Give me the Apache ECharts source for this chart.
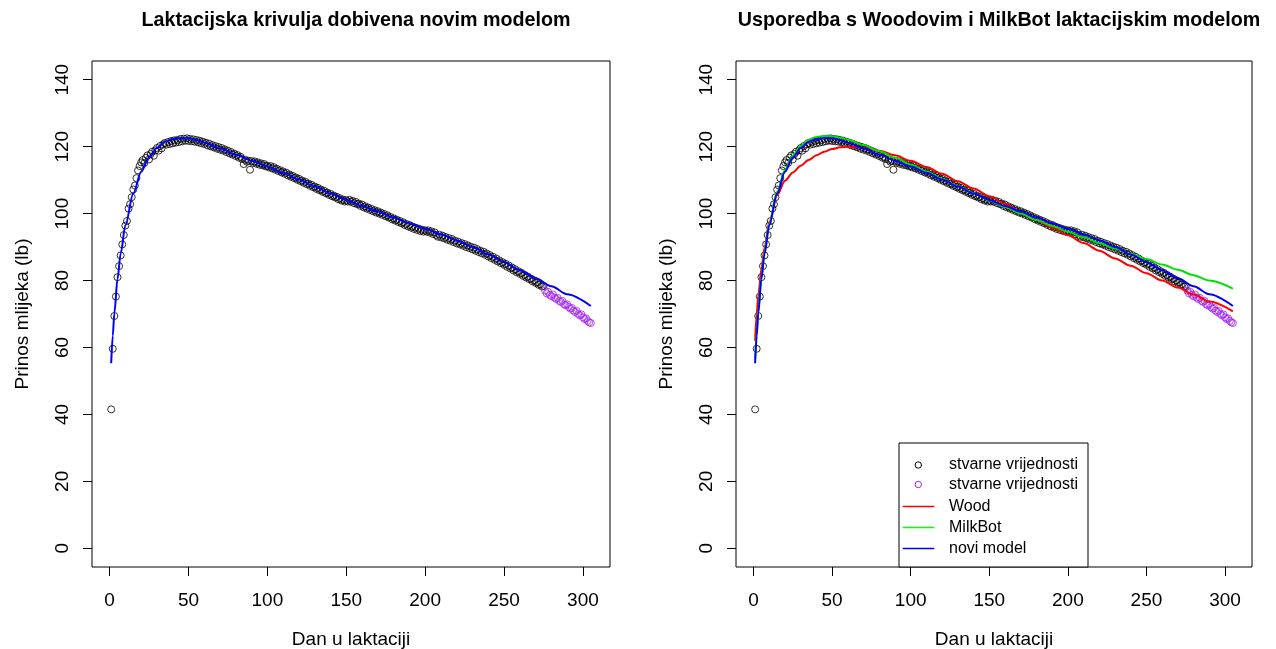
<!DOCTYPE html>
<html><head><meta charset="utf-8">
<script src="https://cdn.jsdelivr.net/npm/echarts@6/dist/echarts.min.js"></script>
<style>html,body{margin:0;padding:0;background:#fff}#c{width:1276px;height:649px}</style>
</head><body><div id="c"></div>
<script>
// ---------- data ----------
const xTicks = [0, 50, 100, 150, 200, 250, 300];
const yTicks = [0, 20, 40, 60, 80, 100, 120, 140];

// observed daily yields, black points (days 1..275)
const blackStartDay = 1;
const blackValues = [
  41.5, 59.6, 69.4, 75.2, 81.0, 84.3, 87.5, 90.8, 93.6, 96.4,
  97.8, 101.5, 102.8, 104.9, 107.2, 108.4, 110.6, 112.9, 114.2, 115.3,
  116.0, 115.1, 116.7, 117.4, 116.2, 117.8, 118.5, 117.3, 118.9, 119.6,
  118.8, 120.2, 119.5, 120.7, 121.1, 120.6, 121.4, 120.8, 121.7, 121.0,
  121.9, 121.2, 122.0, 121.4, 122.3, 121.6, 122.4, 121.8, 122.5, 121.7,
  122.3, 121.6, 122.2, 121.5, 122.0, 121.3, 121.8, 121.0, 121.5, 120.8,
  121.2, 120.4, 120.9, 120.1, 120.5, 119.8, 120.2, 119.4, 119.9, 119.1,
  119.6, 118.8, 119.2, 118.4, 118.8, 118.0, 118.4, 117.6, 117.9, 117.2,
  117.5, 116.7, 117.0, 116.3, 114.8, 116.1, 115.5, 115.8, 113.1, 115.7,
  115.2, 115.6, 114.9, 115.3, 114.6, 115.0, 114.4, 114.8, 114.1, 114.3,
  113.8, 114.2, 113.5, 113.9, 113.1, 113.4, 112.7, 113.0, 112.3, 112.6,
  111.9, 112.2, 111.4, 111.7, 111.0, 111.3, 110.6, 110.8, 110.1, 110.4,
  109.7, 109.9, 109.2, 109.5, 108.8, 109.0, 108.3, 108.6, 107.9, 108.1,
  107.4, 107.7, 107.0, 107.2, 106.5, 106.8, 106.1, 106.3, 105.6, 105.9,
  105.2, 105.4, 104.8, 105.0, 104.3, 104.6, 103.9, 104.2, 103.6, 104.0,
  103.6, 104.1, 103.5, 103.8, 103.1, 103.5, 102.8, 103.0, 102.3, 102.7,
  101.9, 102.2, 101.5, 101.8, 101.1, 101.4, 100.7, 101.0, 100.3, 100.7,
  100.0, 100.3, 99.6, 99.9, 99.2, 99.5, 98.8, 99.0, 98.3, 98.6,
  97.9, 98.2, 97.5, 97.8, 97.1, 97.4, 96.6, 96.9, 96.2, 96.6,
  95.8, 96.1, 95.4, 95.8, 95.1, 95.5, 94.8, 95.2, 94.6, 95.0,
  94.6, 95.0, 94.3, 94.7, 93.9, 94.4, 93.6, 93.1, 93.7, 92.9,
  93.4, 92.6, 93.0, 92.2, 92.7, 91.9, 92.4, 91.5, 91.9, 91.1,
  91.6, 90.8, 91.2, 90.4, 90.9, 90.0, 90.5, 89.7, 90.1, 89.3,
  89.8, 88.9, 89.4, 88.5, 88.9, 88.1, 88.6, 87.7, 88.1, 87.2,
  87.6, 86.7, 87.1, 86.2, 86.6, 85.7, 86.0, 85.2, 85.5, 84.7,
  85.0, 84.1, 84.5, 83.6, 83.9, 83.0, 83.4, 82.5, 82.8, 82.0,
  82.3, 81.4, 81.7, 80.9, 81.2, 80.4, 80.6, 79.8, 80.1, 79.3,
  79.5, 78.7, 78.9, 78.2, 78.4
];

// observed daily yields, purple points (days 276..305)
const purpleStartDay = 276;
const purpleValues = [
  77.0, 76.2, 76.6, 75.7, 75.3, 75.8, 74.9, 74.5, 74.8, 73.9,
  73.6, 73.9, 72.9, 72.6, 72.9, 72.1, 71.6, 71.8, 71.0, 70.6,
  70.9, 70.0, 69.6, 69.9, 69.0, 68.5, 68.7, 67.9, 67.5, 67.3
];

// fitted model curves, read at these days
const modelDays = [1, 2, 3, 5, 7, 10, 15, 20, 25, 30, 35, 40, 45, 50, 55, 60, 70, 80, 90, 100,
  110, 120, 130, 140, 150, 160, 170, 180, 190, 200, 210, 220, 230, 240, 250, 260, 270, 280, 290, 305];
const noviModel = [55.3, 63.5, 70.2, 80.5, 88.0, 96.5, 106.0, 112.5, 116.8, 119.6, 121.5, 122.3, 122.6, 122.5, 122.0, 121.2, 119.5, 117.6, 115.8, 114.1,
  112.2, 110.2, 108.1, 106.0, 104.1, 102.3, 100.6, 98.8, 97.2, 95.5, 93.8, 92.0, 90.0, 87.8, 85.5, 83.1, 80.7, 78.3, 75.9, 72.4];
const woodModel = [62.0, 70.0, 75.5, 83.5, 89.8, 97.5, 105.5, 109.8, 112.3, 114.3, 116.0, 117.4, 118.5, 119.3, 119.8, 120.0, 119.7, 118.8, 117.4, 115.8,
  113.9, 111.9, 109.7, 107.5, 105.2, 102.9, 100.5, 98.2, 95.8, 93.5, 91.2, 88.9, 86.6, 84.4, 82.2, 80.0, 77.9, 75.8, 73.7, 70.8];
const milkbotModel = [56.5, 64.0, 70.8, 81.0, 88.5, 97.0, 106.5, 113.0, 117.3, 120.2, 122.0, 122.9, 123.2, 123.1, 122.7, 122.1, 120.5, 118.6, 116.7, 114.7,
  112.6, 110.4, 108.2, 106.1, 104.0, 102.0, 100.0, 98.1, 96.3, 94.6, 92.9, 91.2, 89.6, 88.0, 86.4, 84.8, 83.2, 81.6, 80.0, 77.6];

const titleLeft = 'Laktacijska krivulja dobivena novim modelom';
const titleRight = 'Usporedba s Woodovim i MilkBot laktacijskim modelom';
const xName = 'Dan u laktaciji';
const yName = 'Prinos mlijeka (lb)';
const legendLabels = ['stvarne vrijednosti', 'stvarne vrijednosti', 'Wood', 'MilkBot', 'novi model'];

// ---------- chart ----------
const FONT = '"Liberation Sans", Arial, sans-serif';
const AX_FS = 19;
const C_BLACK = '#000000', C_PURPLE = '#A020F0', C_RED = '#FF0000', C_GREEN = '#00E000', C_BLUE = '#0000FF';

const blackPts = blackValues.map((v, i) => [blackStartDay + i, v]);
const purplePts = purpleValues.map((v, i) => [purpleStartDay + i, v]);
const curve = arr => modelDays.map((d, i) => [d, arr[i]]);

function xAxis(gi) {
  return {
    gridIndex: gi, type: 'value', min: -11.16, max: 317.16,
    name: xName, nameLocation: 'middle', nameGap: 63,
    nameTextStyle: { fontFamily: FONT, fontSize: AX_FS, color: '#000' },
    axisLine: { show: false, onZero: false },
    axisTick: { show: true, inside: false, length: 9, customValues: xTicks, lineStyle: { color: '#000', width: 1 } },
    axisLabel: { customValues: xTicks, margin: 24, fontFamily: FONT, fontSize: AX_FS, color: '#000' },
    splitLine: { show: false }
  };
}
function yAxis(gi) {
  return {
    gridIndex: gi, type: 'value', min: -5.6, max: 145.6,
    name: yName, nameLocation: 'middle', nameGap: 60,
    nameTextStyle: { fontFamily: FONT, fontSize: AX_FS, color: '#000' },
    axisLine: { show: false, onZero: false },
    axisTick: { show: true, inside: false, length: 9, customValues: yTicks, lineStyle: { color: '#000', width: 1 } },
    axisLabel: { customValues: yTicks, rotate: 90, margin: 20, fontFamily: FONT, fontSize: AX_FS, color: '#000' },
    splitLine: { show: false }
  };
}
function scatter(gi, data, color) {
  return {
    type: 'scatter', xAxisIndex: gi, yAxisIndex: gi, data: data,
    symbol: 'circle', symbolSize: 7,
    itemStyle: { color: 'rgba(0,0,0,0)', borderColor: color, borderWidth: 1 },
    z: 3
  };
}
function line(gi, data, color) {
  return {
    type: 'line', xAxisIndex: gi, yAxisIndex: gi, data: data,
    showSymbol: false, smooth: 0.3, smoothMonotone: 'x',
    lineStyle: { color: color, width: 2 }, z: 4
  };
}

const LX = 899, LY = 443, LW = 189, LH = 124;
const rowY = [465, 484.5, 506.5, 527.5, 548.5];
const legendGraphics = [
  { type: 'rect', shape: { x: LX, y: LY, width: LW, height: LH }, style: { fill: '#fff', stroke: '#000', lineWidth: 1 }, z: 10 },
  { type: 'circle', shape: { cx: 918.3, cy: rowY[0], r: 3.2 }, style: { fill: 'none', stroke: C_BLACK, lineWidth: 1 }, z: 11 },
  { type: 'circle', shape: { cx: 918.3, cy: rowY[1], r: 3.2 }, style: { fill: 'none', stroke: C_PURPLE, lineWidth: 1 }, z: 11 },
  { type: 'line', shape: { x1: 902.7, y1: rowY[2], x2: 934.3, y2: rowY[2] }, style: { stroke: C_RED, lineWidth: 1.5 }, z: 11 },
  { type: 'line', shape: { x1: 902.7, y1: rowY[3], x2: 934.3, y2: rowY[3] }, style: { stroke: '#00FF00', lineWidth: 1.5 }, z: 11 },
  { type: 'line', shape: { x1: 902.7, y1: rowY[4], x2: 934.3, y2: rowY[4] }, style: { stroke: C_BLUE, lineWidth: 1.5 }, z: 11 }
].concat(legendLabels.map((t, i) => ({
  type: 'text', x: 949, y: rowY[i], z: 11,
  style: { text: t, fontFamily: FONT, fontSize: 16, fill: '#000', textVerticalAlign: 'middle', verticalAlign: 'middle' }
})));

const chart = echarts.init(document.getElementById('c'), null, { renderer: 'canvas' });
chart.setOption({
  animation: false,
  backgroundColor: '#fff',
  title: [
    { text: titleLeft, left: 351, top: 6, textAlign: 'center', textStyle: { fontFamily: FONT, fontSize: 19.7, fontWeight: 'bold', color: '#000' } },
    { text: titleRight, left: 994, top: 6, textAlign: 'center', textStyle: { fontFamily: FONT, fontSize: 19.7, fontWeight: 'bold', color: '#000' } }
  ],
  grid: [
    { left: 92, top: 61, width: 518, height: 506, show: true, borderColor: '#000', borderWidth: 1, backgroundColor: 'transparent', containLabel: false, outerBoundsMode: 'none' },
    { left: 736, top: 61, width: 516, height: 506, show: true, borderColor: '#000', borderWidth: 1, backgroundColor: 'transparent', containLabel: false, outerBoundsMode: 'none' }
  ],
  xAxis: [xAxis(0), xAxis(1)],
  yAxis: [yAxis(0), yAxis(1)],
  series: [
    scatter(0, blackPts, C_BLACK),
    scatter(0, purplePts, C_PURPLE),
    line(0, curve(noviModel), C_BLUE),
    scatter(1, blackPts, C_BLACK),
    scatter(1, purplePts, C_PURPLE),
    line(1, curve(woodModel), C_RED),
    line(1, curve(milkbotModel), C_GREEN),
    line(1, curve(noviModel), C_BLUE)
  ],
  graphic: legendGraphics
});
</script>
</body></html>
